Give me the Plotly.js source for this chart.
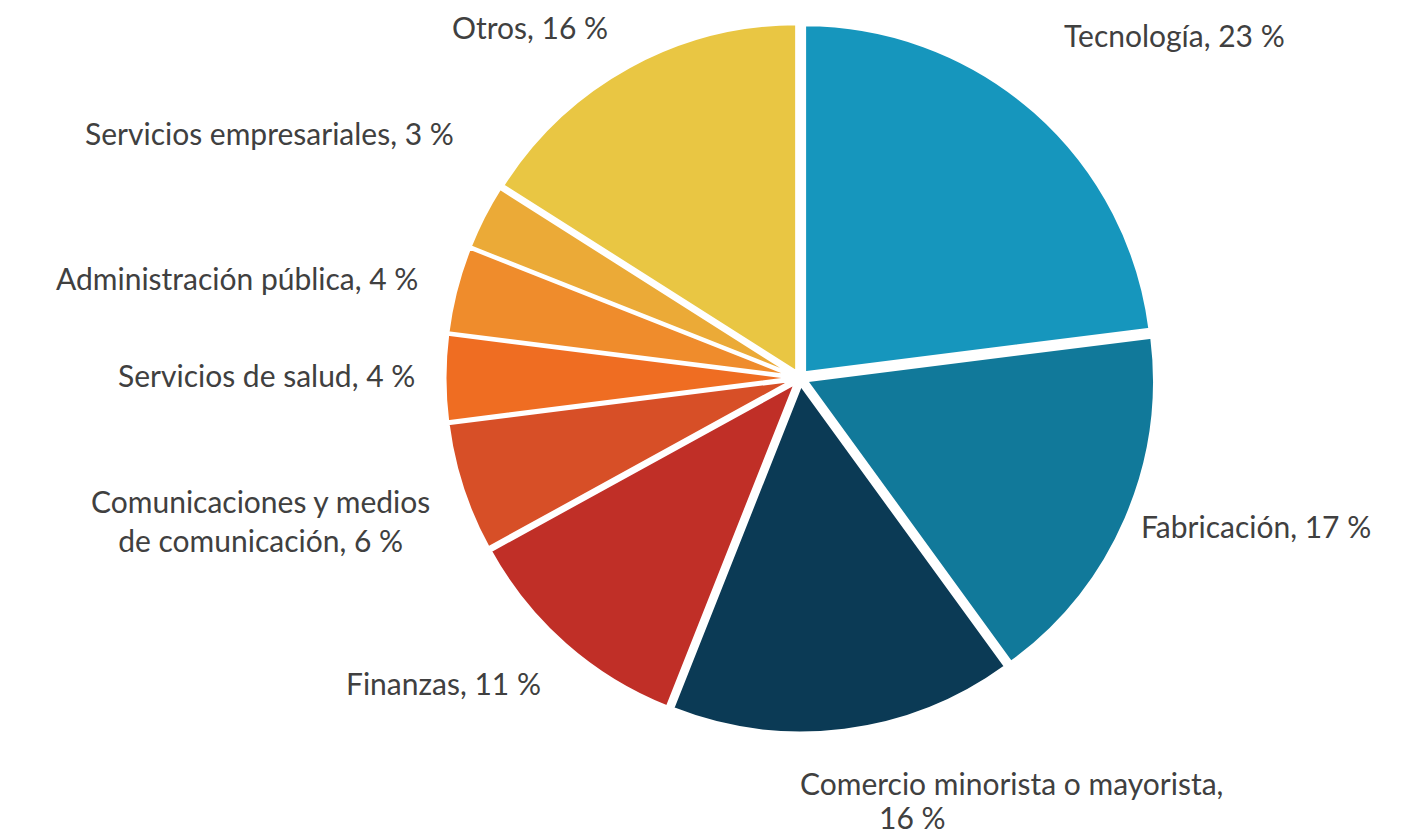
<!DOCTYPE html>
<html>
<head>
<meta charset="utf-8">
<script src="https://cdn.plot.ly/plotly-3.0.1.min.js"></script>
<style>html,body{margin:0;padding:0;background:#fff;}#chart{width:1424px;height:836px;}</style>
</head>
<body>
<div id="chart"></div>
<script>
// Data
const categories = ["Tecnología", "Fabricación", "Comercio minorista o mayorista", "Finanzas",
  "Comunicaciones y medios de comunicación", "Servicios de salud", "Administración pública",
  "Servicios empresariales", "Otros"];
const values = [23, 17, 16, 11, 6, 4, 4, 3, 16];
const colors = ["#1696BD", "#11799A", "#0B3A55", "#C02F27", "#D74F27", "#EF6D22", "#EF8C2C", "#EBAA37", "#E9C643"];

// Label text (line breaks as in the reference)
const labelLines = [
  ["Tecnología, " + values[0] + " %"],
  ["Fabricación, " + values[1] + " %"],
  ["Comercio minorista o mayorista,", values[2] + " %"],
  ["Finanzas, " + values[3] + " %"],
  ["Comunicaciones y medios<br>de comunicación, " + values[4] + " %"],
  ["Servicios de salud, " + values[5] + " %"],
  ["Administración pública, " + values[6] + " %"],
  ["Servicios empresariales, " + values[7] + " %"],
  ["Otros, " + values[8] + " %"]
];
// Label placement in pixels (layout only): [x, y, xanchor] per line
const labelPlace = [
  [[1063, 35, "left"]],
  [[1140, 526, "left"]],
  [[1011, 783, "center"], [912, 817, "center"]],
  [[542, 683, "right"]],
  [[260, 520, "center"]],
  [[416, 375, "right"]],
  [[419, 278, "right"]],
  [[455, 133, "right"]],
  [[609, 27, "right"]]
];

const W = 1424, H = 836;
const font = {family: "Lato, 'Open Sans', sans-serif", size: 30, color: "#404040"};

const annotations = [];
labelLines.forEach((lines, i) => {
  lines.forEach((t, j) => {
    const p = labelPlace[i][j];
    annotations.push({
      xref: "paper", yref: "paper",
      x: p[0] / W, y: 1 - p[1] / H,
      xanchor: p[2], yanchor: "middle",
      align: "center", borderpad: 0,
      text: t, showarrow: false, font: font
    });
  });
});

const trace = {
  type: "pie",
  labels: categories,
  values: values,
  sort: false,
  direction: "clockwise",
  rotation: 0,
  marker: {colors: colors, line: {color: "#ffffff", width: 3}},
  pull: 0.02,
  textinfo: "none",
  hoverinfo: "none",
  automargin: false,
  domain: {x: [445 / W, 1155 / W], y: [103 / H, 813 / H]},
  showlegend: false
};

const layout = {
  width: W, height: H,
  margin: {l: 0, r: 0, t: 0, b: 0},
  paper_bgcolor: "#ffffff",
  plot_bgcolor: "#ffffff",
  showlegend: false,
  annotations: annotations
};

Plotly.newPlot("chart", [trace], layout, {displayModeBar: false, staticPlot: true});
</script>
</body>
</html>
